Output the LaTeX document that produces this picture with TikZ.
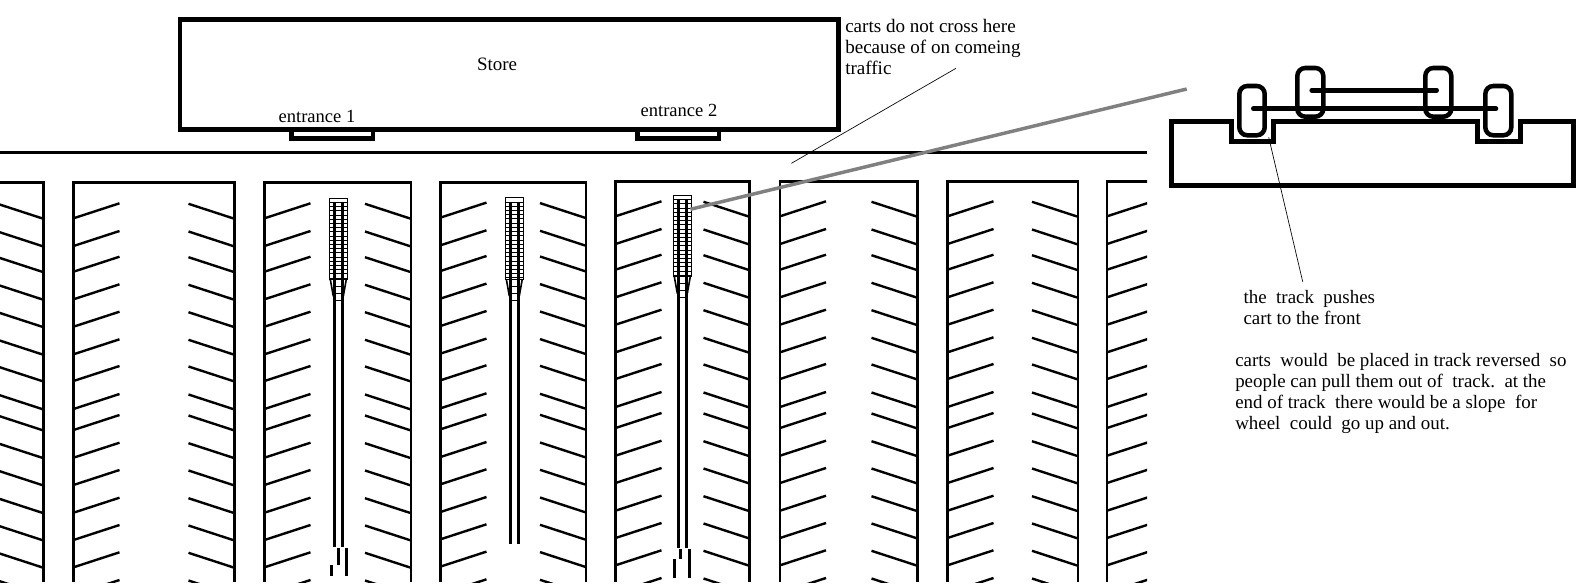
\documentclass[tikz,border=0pt]{standalone}
\usepackage{fontspec}
\setmainfont{Liberation Serif}
\usepackage{tikz}
\usetikzlibrary{positioning,calc}

\begin{document}
\begin{tikzpicture}[
  x=0.75pt,y=-0.75pt,
  font=\fontsize{14.2}{15.75}\selectfont,
  wall/.style={line width=2.2pt,line cap=butt},
  heavy/.style={line width=3.4pt,miter limit=10},
  stripe/.style={line width=1.8pt},
  rail/.style={line width=2pt},
  thinline/.style={line width=0.5pt},
  gridline/.style={line width=0.75pt},
  wheel/.style={line width=3.4pt,rounded corners=6pt},
  axle/.style={line width=3.4pt,line cap=round},
  note/.style={anchor=north west,inner sep=0pt,align=left}
]
\useasboundingbox (0,0) rectangle (1592,588);

% store and entrances
\draw[heavy] (179.8,19.5) rectangle (838.7,129.5);
\draw[heavy] (291.5,129.5) -- (291.5,138.5) -- (372.8,138.5) -- (372.8,129.5);
\draw[heavy] (637.5,129.5) -- (637.5,138.5) -- (719,138.5) -- (719,129.5);
\node (store) at (497,64) {Store};
\node[font=\fontsize{13.9}{15.75}\selectfont] (ent1) at (317,116.5) {entrance 1};
\node[font=\fontsize{13.9}{15.75}\selectfont] (ent2) at (679,110) {entrance 2};
\draw[wall] (0,152.3) -- (1147,152.3);

% parking rows
\begin{scope}
\clip (0,0) rectangle (1147,582);
\foreach \lft/\rgt/\top/\shift in {-100/43.5/182.7/0,73.5/234.5/182.7/0,264.5/411/182.7/0,440.5/586/182.7/-.7,615.5/749.5/181.7/-2,780/917.5/181.7/-2,947.5/1078/181.7/-2,1107/1250/181.7/-2}{
  \draw[wall] (\lft,582) -- (\lft,\top) -- (\rgt,\top) -- (\rgt,582);
  \foreach \ya in {218.3,246,271.7,299.3,326.7,354.3,381,409,430,457.7,485,512.7,540,567.3,595}{
    \draw[stripe] (\lft,\ya+\shift) -- ++(46,-15);
    \draw[stripe] (\rgt,\ya+\shift+.5) -- ++(-46,-15);
  }
}
\end{scope}

% carts in the track
\foreach \cx/\ctop/\railend in {338.3/198.3/546.7,514.3/198/544.3,682.3/195.5/547.7}{
  \draw[gridline] (\cx-8.7,\ctop) rectangle (\cx+8.7,\ctop+81);
  \foreach \k in {1,...,19}{
    \draw[gridline] (\cx-8.7,\ctop+4.2*\k) -- (\cx+8.7,\ctop+4.2*\k);
  }
  \foreach \k in {88,95,102}{
    \draw[gridline] (\cx-4.1,\ctop+\k) -- (\cx+4.1,\ctop+\k);
  }
  \draw[line width=1.2pt] (\cx-8,\ctop+81) -- (\cx-5,\ctop+98);
  \draw[line width=1.2pt] (\cx+8,\ctop+81) -- (\cx+5,\ctop+98);
  \draw[rail] (\cx-4.1,\ctop+4) -- (\cx-4.1,\railend);
  \draw[rail] (\cx+4.1,\ctop+4) -- (\cx+4.1,\railend);
}
\draw[rail] (338.3,548) -- (338.3,565) (346.3,548) -- (346.3,576) (331.3,565) -- (331.3,576);
\draw[rail] (680.7,549) -- (680.7,559) (689.3,549) -- (689.3,577.7) (674.7,559) -- (674.7,577.7);

% side view
\draw[heavy] (1171.3,121.7) -- (1231.3,121.7) -- (1231.3,141.7) -- (1273.7,141.7) -- (1273.7,121.7)
  -- (1477.3,121.7) -- (1477.3,141.7) -- (1520.7,141.7) -- (1520.7,121.7) -- (1573.7,121.7)
  -- (1573.7,185.3) -- (1171.3,185.3) -- cycle;
\draw[wheel] (1239.3,86) rectangle (1264.7,135.3);
\draw[wheel] (1297.3,68) rectangle (1323.3,116.7);
\draw[wheel] (1425.3,68) rectangle (1451.3,116.7);
\draw[wheel] (1485.3,86) rectangle (1511.3,135.3);
\draw[axle] (1311.7,90.3) -- (1436.7,90.3);
\draw[axle] (1253.3,108.7) -- (1496,108.7);

% notes
\node[note,font=\fontsize{14.3}{15.75}\selectfont] (nocross) at (845,19) {carts do not cross here\\because of on comeing\\traffic};
\node[note] (pushes) at (1243.3,290) {the\ \ track\ \ pushes\\cart to the front};
\node[note] (placed) at (1235,353) {carts\ \ would\ \ be placed in track reversed\ \ so\\people can pull them out of\ \ track.\ \ at the\\end of track\ \ there would be a slope\ \ for\\wheel\ \ could\ \ go up and out.};

% leader lines
\coordinate (crossA) at (956,68.3);
\coordinate (crossB) at (791.4,163.3);
\coordinate (pushA) at (1268.7,137.3);
\coordinate (pushB) at (1302.7,281.7);
\coordinate (zoomA) at (690.4,209.3);
\coordinate (zoomB) at (1186.7,89);
\draw[thinline] (crossA) -- (crossB);
\draw[thinline] (pushA) -- (pushB);
\draw[line width=2.6pt,gray] (zoomA) -- (zoomB);
\end{tikzpicture}
\end{document}
